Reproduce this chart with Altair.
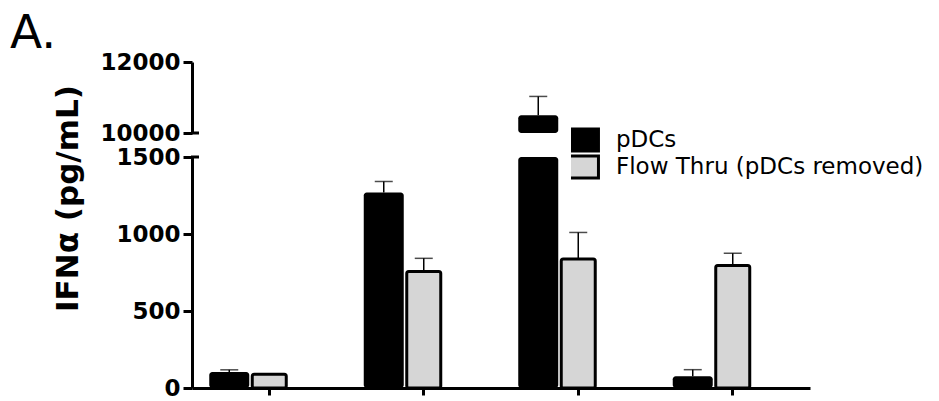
import altair as alt
import pandas as pd

# Stimulation groups (no category labels are shown on the x axis)
groups = ["G1", "G2", "G3", "G4"]
series = ["pDCs", "Flow Thru (pDCs removed)"]
slots = series + ["spare"]          # third, empty column per group

pdc_mean = [104, 1270, 10500, 76]
pdc_sem = [14, 71, 530, 43]
flow_mean = [89, 756, 838, 795]
flow_sem = [0, 86, 172, 80]

rows = []
for g, m, s in zip(groups, pdc_mean, pdc_sem):
    rows.append({"group": g, "series": series[0], "mean": m, "sem": s, "top": m + s})
for g, m, s in zip(groups, flow_mean, flow_sem):
    rows.append({"group": g, "series": series[1], "mean": m, "sem": s, "top": m + s})
df = pd.DataFrame(rows)
one = pd.DataFrame({"k": [0]})

FONT = "DejaVu Sans"
PLOT_W = 618

x_scale = alt.Scale(domain=groups, paddingInner=0.2233, paddingOuter=0.1117)
off_scale = alt.Scale(domain=slots, paddingInner=0, paddingOuter=0)

legend = alt.Legend(
    title=None, orient="none", legendX=379, legendY=65,
    symbolType="M-1.36,-1H1.36V1H-1.36Z", symbolSize=484,
    symbolStrokeColor="black", symbolStrokeWidth=3, symbolOpacity=1,
    labelFont=FONT, labelFontSize=23, labelColor="black", labelOffset=20,
    labelLimit=500, clipHeight=26, rowPadding=1, padding=0,
)
color = alt.Color("series:N", scale=alt.Scale(domain=series, range=["black", "#d6d6d6"]), legend=legend)


def panel(lo, hi, ticks, height, bottom, brk):
    """One segment of the broken y axis, showing only the part of each bar in [lo, hi]."""
    y_scale = alt.Scale(domain=[lo, hi], nice=False, zero=False)
    y_axis_kw = dict(
        values=ticks, format="d", grid=False,
        domainColor="black", domainWidth=3, tickColor="black", tickWidth=3, tickSize=9,
        labelFont=FONT, labelFontWeight="bold", labelFontSize=23, labelColor="black", labelPadding=3,
    )
    if bottom:
        y_axis = alt.Axis(
            title="IFNα (pg/mL)", titleFont=FONT, titleFontWeight="bold", titleFontSize=31,
            titleColor="black", titleAngle=270, titleAlign="center", titleBaseline="alphabetic",
            titleX=-115, titleY=41, **y_axis_kw,
        )
        x_axis = alt.Axis(
            labels=False, title=None, grid=False, domainColor="black", domainWidth=3,
            tickColor="black", tickWidth=3, tickSize=7,
        )
    else:
        y_axis = alt.Axis(title=None, **y_axis_kw)
        x_axis = None

    base = alt.Chart(df).transform_calculate(
        y_lo=f"{max(lo, 0)}",
        y_hi=f"min(datum.mean, {hi})",
    ).encode(
        x=alt.X("group:N", scale=x_scale, axis=x_axis, sort=groups),
        xOffset=alt.XOffset("series:N", scale=off_scale),
    )
    err = base.transform_filter(
        f"datum.sem > 0 && datum.mean >= {lo} && datum.top <= {hi}"
    )
    rule = err.mark_rule(strokeWidth=1.5, color="black").encode(
        y=alt.Y("mean:Q", scale=y_scale, axis=y_axis), y2="top:Q"
    )
    cap = err.mark_tick(size=18, thickness=1.5, color="black").encode(
        y=alt.Y("top:Q", scale=y_scale)
    )
    bars = base.transform_filter(f"datum.mean > {lo}")
    pdc = bars.transform_filter(alt.datum.series == series[0]).mark_bar(
        cornerRadiusEnd=3
    ).encode(y=alt.Y("y_hi:Q", scale=y_scale), y2="y_lo:Q", color=color)
    flow = bars.transform_filter(alt.datum.series == series[1]).mark_bar(
        cornerRadiusEnd=2, stroke="black", strokeWidth=3, width=34,
    ).encode(y=alt.Y("y_hi:Q", scale=y_scale), y2="y_lo:Q", color=color)
    mark_break = alt.Chart(one).mark_rule(strokeWidth=3, color="black").encode(
        x=alt.value(-1), x2=alt.value(7), y=alt.Y(datum=brk, scale=y_scale)
    )
    layers = [rule, cap, pdc, flow, mark_break]
    if not bottom:
        panel_tag = alt.Chart(pd.DataFrame({"tag": ["A."]})).mark_text(
            font=FONT, fontSize=47, align="left", baseline="top", color="black"
        ).encode(text="tag:N", x=alt.value(-182), y=alt.value(-51))
        layers.append(panel_tag)
    return alt.layer(*layers).properties(width=PLOT_W, height=height)


upper = panel(10000, 12000, [10000, 11000, 12000], 71, False, 10000)
lower = panel(0, 1500, [0, 500, 1000, 1500], 231, True, 1500)

chart = (
    alt.vconcat(upper, lower, spacing=24, bounds="flush")
    .resolve_scale(y="independent", color="shared")
    .properties(padding={"left": 10, "top": 10, "right": 0, "bottom": 0}, background="white")
    .configure_view(stroke=None)
)

chart.save("out.html", embed_options={"renderer": "svg", "actions": False})
